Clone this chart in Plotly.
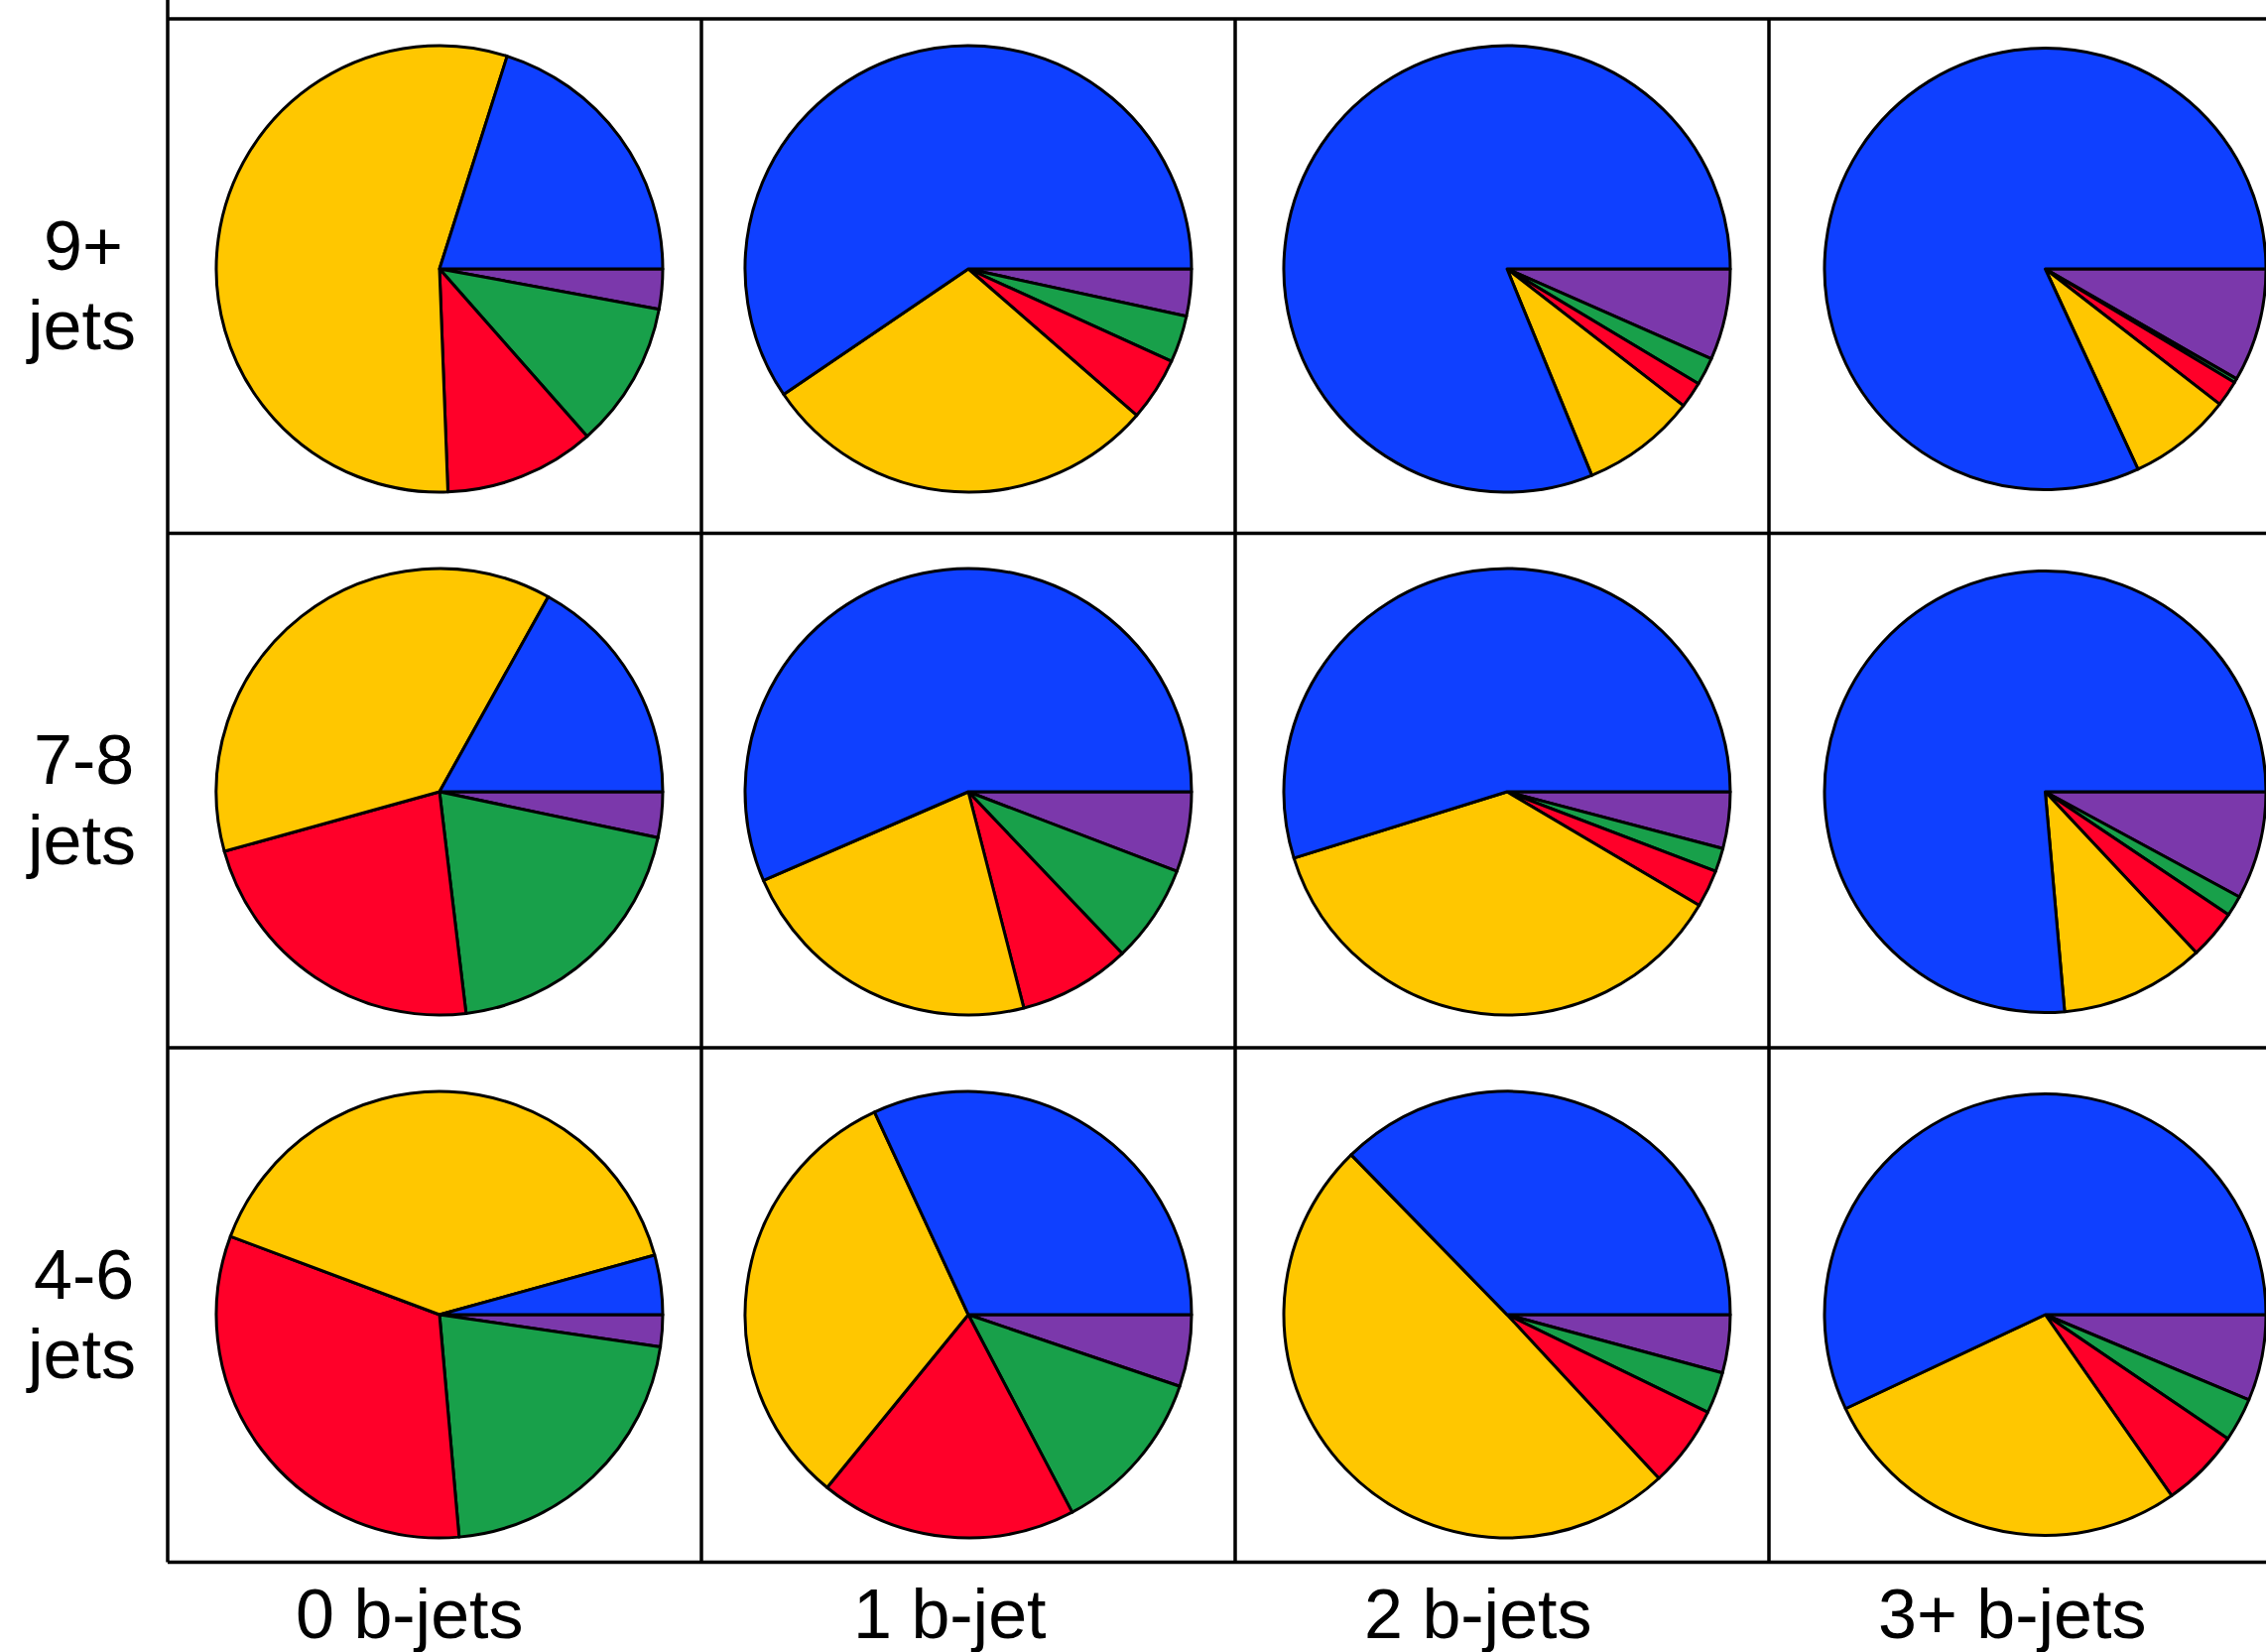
import plotly.graph_objects as go

# ---------------- data ----------------
# slice order (clockwise from 3 o'clock): purple, green, red, yellow, blue
components = ["Component 1", "Component 2", "Component 3", "Component 4", "Component 5"]
row_numbers = ["9+", "7-8", "4-6"]
row_words = ["jets", "jets", "jets"]
col_labels = ["0 b-jets", "1 b-jet", "2 b-jets", "3+ b-jets"]

# percentages per cell: [purple, green, red, yellow, blue]
jets_9plus = [
    [2.9, 10.6, 10.9, 55.5, 20.1],
    [3.4, 3.4, 4.6, 29.1, 59.5],
    [6.6, 2.0, 1.9, 8.3, 81.2],
    [8.3, 0.3, 1.9, 7.6, 81.9],
]
jets_7to8 = [
    [3.3, 19.8, 22.6, 37.4, 16.9],
    [5.8, 7.1, 8.1, 22.5, 56.5],
    [4.1, 1.7, 2.7, 36.7, 54.8],
    [7.9, 1.5, 3.6, 10.6, 76.4],
]
jets_4to6 = [
    [2.3, 21.3, 32.1, 40.0, 4.3],
    [5.2, 12.1, 18.6, 32.2, 31.9],
    [4.2, 3.0, 5.9, 49.6, 37.3],
    [6.3, 3.2, 5.8, 27.7, 57.0],
]
rows_data = [jets_9plus, jets_7to8, jets_4to6]

# ---------------- style / layout ----------------
colors = ["#7B38AB", "#18A04A", "#FF0029", "#FFC700", "#0F40FF"]
W, H = 2284, 1665
FONT = "Liberation Sans, Arial, Helvetica, sans-serif"

grid_x0, cell_w = 169.0, 538.0
grid_y0, cell_h = 19.0, 518.5
n_cols, n_rows = 4, 3
pie_cx = [443, 976, 1519, 2064]
pie_cy = [271, 798, 1325]
pie_r = 225
line_w = 3.5


def px_x(v):
    return v / W


def px_y(v):
    return 1 - v / H


def clamp(v):
    return max(0.0, min(1.0, v))


fig = go.Figure()

for r, row in enumerate(rows_data):
    for c, vals in enumerate(row):
        cx, cy = pie_cx[c], pie_cy[r]
        fig.add_trace(go.Pie(
            labels=components,
            values=vals,
            sort=False,
            direction="clockwise",
            rotation=90,
            marker=dict(colors=colors, line=dict(color="black", width=3)),
            textinfo="none",
            hovertemplate=row_numbers[r] + " jets, " + col_labels[c] + "<br>%{label}: %{value}%<extra></extra>",
            showlegend=False,
            domain=dict(
                x=[clamp(px_x(cx - pie_r)), clamp(px_x(cx + pie_r))],
                y=[clamp(px_y(cy + pie_r)), clamp(px_y(cy - pie_r))],
            ),
        ))

shapes = []
right_edge = W + 50
# horizontal grid lines
for i in range(n_rows + 1):
    y = grid_y0 + i * cell_h
    shapes.append(dict(type="line", xref="paper", yref="paper",
                       x0=px_x(grid_x0), x1=px_x(right_edge), y0=px_y(y), y1=px_y(y),
                       line=dict(color="black", width=line_w)))
# vertical grid lines
for j in range(n_cols + 1):
    x = grid_x0 + j * cell_w
    top = -10 if j == 0 else grid_y0
    shapes.append(dict(type="line", xref="paper", yref="paper",
                       x0=px_x(x), x1=px_x(x), y0=px_y(top), y1=px_y(grid_y0 + n_rows * cell_h),
                       line=dict(color="black", width=line_w)))

annotations = []
label_font = dict(family=FONT, size=70, color="black")
for r in range(n_rows):
    top = grid_y0 + r * cell_h
    annotations.append(dict(text=row_numbers[r], xref="paper", yref="paper",
                            x=px_x(84), y=px_y(top + 229), xanchor="center", yanchor="middle",
                            showarrow=False, font=label_font))
    annotations.append(dict(text=row_words[r], xref="paper", yref="paper",
                            x=px_x(81), y=px_y(top + 309), xanchor="center", yanchor="middle",
                            showarrow=False, font=label_font))

col_label_x = [413, 957, 1490, 2028]
for c in range(n_cols):
    annotations.append(dict(text=col_labels[c], xref="paper", yref="paper",
                            x=px_x(col_label_x[c]), y=px_y(1627), xanchor="center", yanchor="middle",
                            showarrow=False, font=label_font))

fig.update_layout(
    width=W, height=H,
    margin=dict(l=0, r=0, t=0, b=0),
    paper_bgcolor="white", plot_bgcolor="white",
    shapes=shapes, annotations=annotations,
    font=dict(family=FONT),
)

fig.write_html("out.html")
